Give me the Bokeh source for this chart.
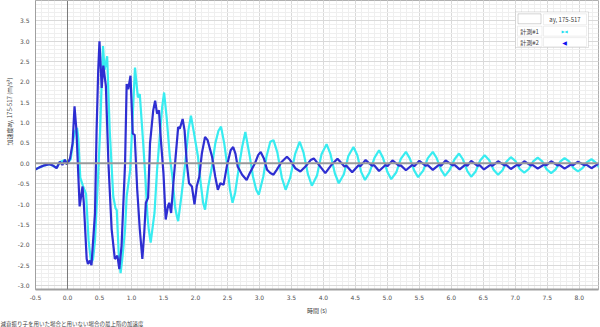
from bokeh.plotting import figure
from bokeh.models import (Range1d, FixedTicker, PrintfTickFormatter, Span,
                          BoxAnnotation, Label, Title, ColumnDataSource)
from bokeh.embed import file_html
from bokeh.resources import INLINE

# ---------------- data ----------------
series_names = ["計測#1", "計測#2"]
legend_header = "ay, 175-517"
y_label = "加速度ay, 175-517 (m/s²)"
x_label = "時間 (s)"
footer = "減衰振り子を用いた場合と用いない場合の最上階の加速度"

# 計測#1 (cyan)
t1 = [-0.52, -0.36, -0.28, -0.17, -0.12, -0.04, 0.00, 0.05, 0.09, 0.12, 0.15, 0.17,
      0.20, 0.24, 0.29, 0.33, 0.37, 0.40, 0.43, 0.47, 0.51, 0.535, 0.555, 0.58, 0.62,
      0.66, 0.715, 0.75, 0.77, 0.80, 0.83, 0.86, 0.90, 0.925, 0.98, 1.055, 1.10, 1.13,
      1.18, 1.22, 1.25, 1.27, 1.30, 1.36, 1.40, 1.45, 1.48, 1.51, 1.55, 1.60, 1.64,
      1.68, 1.71, 1.73, 1.78, 1.84, 1.89, 1.93, 1.97, 2.04, 2.07, 2.12, 2.15, 2.20,
      2.25, 2.31, 2.36, 2.40, 2.45, 2.50, 2.54, 2.58, 2.62, 2.68, 2.73, 2.78, 2.85,
      2.90, 2.95, 2.99, 3.06, 3.11, 3.17, 3.22,
      3.28, 3.35, 3.41, 3.48, 3.56, 3.63, 3.69, 3.76, 3.82, 3.90, 3.97, 4.05,
      4.11, 4.18, 4.24, 4.32, 4.39, 4.47, 4.53, 4.59, 4.65, 4.72, 4.80, 4.87,
      4.93, 5.00, 5.06, 5.14, 5.21, 5.29, 5.35, 5.42, 5.48, 5.56, 5.63, 5.71,
      5.77, 5.84, 5.90, 5.97, 6.05, 6.12, 6.18, 6.25, 6.31, 6.38, 6.45, 6.52,
      6.59, 6.66, 6.73, 6.80, 6.86, 6.93, 7.00, 7.07, 7.14, 7.21, 7.28, 7.35,
      7.42, 7.49, 7.56, 7.63, 7.70, 7.77, 7.84, 7.91, 7.98, 8.05, 8.12, 8.19,
      8.25, 8.31, 8.38]
a1 = [-0.16, -0.05, -0.02, -0.11, 0.03, 0.08, 0.00, 0.10, 0.57, 0.80, 0.87, 0.60,
      -0.35, -0.55, -0.75, -1.90, -2.45, -2.35, -1.90, -0.60, 0.80, 2.00, 2.88, 2.30, 2.63,
      0.81, -0.81, -1.10, -1.15, -2.20, -2.70, -2.30, -1.62, -0.81, -0.16, 2.35, 1.62, 1.70,
      0.57, -0.41, -1.30, -1.62, -1.95, -1.22, -0.16, 0.81, 1.38, 1.74, 1.13, 0.16, -0.33,
      -1.06, -1.30, -1.42, -0.81, 0.00, 0.81, 1.17, 0.81, 0.16, -0.33, -0.97, -1.14, -0.57,
      -0.16, 0.49, 0.80, 0.90, 0.49, -0.08, -0.65, -0.97, -0.73, -0.08, 0.40, 0.77, 0.16,
      -0.33, -0.65, -0.77, -0.33, 0.16, 0.53, 0.57,
      0.27, -0.35, -0.65, -0.36, 0.24, 0.53, 0.26, -0.28, -0.55, -0.30, 0.22, 0.47,
      0.23, -0.25, -0.49, -0.27, 0.18, 0.40, 0.20, -0.21, -0.41, -0.23, 0.14, 0.32,
      0.14, -0.21, -0.39, -0.22, 0.11, 0.28, 0.12, -0.18, -0.34, -0.18, 0.12, 0.28,
      0.13, -0.16, -0.31, -0.17, 0.10, 0.24, 0.10, -0.19, -0.33, -0.20, 0.07, 0.20,
      0.08, -0.16, -0.28, -0.17, 0.04, 0.15, 0.06, -0.14, -0.23, -0.14, 0.05, 0.14,
      0.05, -0.15, -0.24, -0.15, 0.04, 0.13, 0.05, -0.12, -0.20, -0.12, 0.03, 0.10,
      0.03, -0.10, -0.18]

# 計測#2 (blue)
t2 = [-0.52, -0.44, -0.36, -0.28, -0.22, -0.17, -0.12, -0.08, -0.04, -0.01, 0.04, 0.08,
      0.11, 0.14, 0.17, 0.19, 0.235, 0.255, 0.30, 0.32, 0.35, 0.375, 0.43, 0.455, 0.48,
      0.50, 0.535, 0.56, 0.60, 0.64, 0.69, 0.74, 0.78, 0.81, 0.845, 0.90, 0.925, 0.95,
      0.985, 1.02, 1.05, 1.09, 1.13, 1.17, 1.20, 1.225, 1.26, 1.29, 1.34, 1.37, 1.40,
      1.43, 1.46, 1.50, 1.535, 1.57, 1.59, 1.62, 1.655, 1.69, 1.73, 1.755, 1.80, 1.83,
      1.865, 1.90, 1.945, 1.985, 2.02, 2.06, 2.10, 2.15, 2.19, 2.26, 2.31, 2.35, 2.39,
      2.44, 2.49, 2.55, 2.59, 2.625, 2.66, 2.73, 2.80, 2.85, 2.93, 2.98, 3.02, 3.07,
      3.12, 3.17, 3.22, 3.27, 3.35, 3.43, 3.48, 3.56, 3.64, 3.72, 3.80, 3.85, 3.93,
      4.03, 4.12,
      4.22, 4.33, 4.36, 4.45, 4.55, 4.58, 4.66, 4.76, 4.79, 4.87, 4.97, 5.00, 5.08,
      5.18, 5.21, 5.29, 5.39, 5.42, 5.50, 5.60, 5.63, 5.71, 5.81, 5.84, 5.91, 6.02,
      6.05, 6.13, 6.22, 6.25, 6.31, 6.41, 6.44, 6.51, 6.61, 6.64, 6.73, 6.83, 6.86,
      6.93, 7.03, 7.06, 7.14, 7.24, 7.27, 7.35, 7.45, 7.48, 7.56, 7.66, 7.69, 7.77,
      7.87, 7.90, 7.98, 8.08, 8.11, 8.19, 8.29, 8.38]
a2 = [-0.17, -0.10, -0.05, -0.02, -0.06, -0.12, 0.04, -0.04, 0.09, -0.03, 0.12, 0.49,
      1.40, 0.81, -0.33, -1.06, -0.57, -0.97, -2.35, -2.47, -2.39, -2.50, -1.22, 0.81, 2.27,
      3.00, 1.85, 2.40, 1.90, 0.00, -1.62, -2.35, -2.27, -2.60, -2.03, 0.00, 1.95, 1.82,
      2.15, 0.73, 0.70, -0.65, -1.62, -2.35, -1.70, -0.97, -0.85, 0.49, 1.30, 1.54, 1.22,
      1.30, 0.57, -0.24, -1.38, -1.06, -0.97, -1.22, -0.49, 0.16, 0.89, 0.85, 1.09, 0.81,
      0.00, -0.49, -0.57, -1.01, -0.57, -0.33, 0.24, 0.65, 0.57, 0.16, -0.33, -0.65, -0.49,
      -0.53, -0.08, 0.32, 0.40, 0.24, -0.08, -0.28, -0.41, -0.24, 0.00, 0.20, 0.28, 0.12,
      -0.16, -0.24, -0.28, -0.16, 0.04, 0.16, 0.08, -0.12, -0.20, -0.08, 0.08, 0.12, -0.04,
      -0.24, -0.05,
      0.11, -0.08, -0.06, -0.22, -0.05, -0.07, 0.08, -0.06, -0.04, -0.19, -0.04, -0.07, 0.07,
      -0.06, -0.05, -0.17, -0.04, -0.07, 0.06, -0.06, -0.04, -0.16, -0.03, -0.06, 0.07, -0.05,
      -0.04, -0.15, -0.03, -0.06, 0.06, -0.06, -0.04, -0.15, -0.04, -0.06, 0.05, -0.05, -0.04,
      -0.14, -0.03, -0.06, 0.05, -0.05, -0.04, -0.13, -0.03, -0.05, 0.05, -0.05, -0.04, -0.13,
      -0.03, -0.05, 0.04, -0.05, -0.03, -0.12, -0.02, 0.03]

x_ticks = [-0.5, 0.0, 0.5, 1.0, 1.5, 2.0, 2.5, 3.0, 3.5, 4.0, 4.5, 5.0, 5.5, 6.0,
           6.5, 7.0, 7.5, 8.0]
y_ticks = [-3.0, -2.5, -2.0, -1.5, -1.0, -0.5, 0.0, 0.5, 1.0, 1.5, 2.0, 2.5, 3.0, 3.5]

# ---------------- layout / style ----------------
W, H = 600, 327
FL, FR, FT, FB = 35, 598, 0, 292
X0, X1 = -0.5, 8.3
Y0, Y1 = -3.1, 4.0
CYAN = "#38ecf0"
BLUE = "#2e2ed2"
JP = "Noto Sans CJK JP"
NUM = "DejaVu Sans"


def dx(px):
    return X0 + (px - FL) * (X1 - X0) / (FR - FL)


def dy(py):
    return Y1 - (py - FT) * (Y1 - Y0) / (FB - FT)


p = figure(width=W, height=H, output_backend="svg", toolbar_location=None,
           x_range=Range1d(X0, X1), y_range=Range1d(Y0, Y1),
           min_border_left=FL, min_border_right=W - FR, min_border_top=FT,
           min_border_bottom=H - FB)
p.background_fill_color = "white"
p.border_fill_color = "white"
p.outline_line_color = "#b0b0b0"

minor_x = [round(-0.5 + 0.1 * i, 2) for i in range(89)]
minor_y = [round(-3.1 + 0.1 * i, 2) for i in range(72)]
p.xaxis.ticker = FixedTicker(ticks=x_ticks, minor_ticks=minor_x)
p.yaxis.ticker = FixedTicker(ticks=y_ticks, minor_ticks=minor_y)
p.xaxis.formatter = PrintfTickFormatter(format="%.1f")
p.yaxis.formatter = PrintfTickFormatter(format="%.1f")

for ax in (p.xaxis[0], p.yaxis[0]):
    ax.major_tick_line_color = None
    ax.minor_tick_line_color = None
    ax.major_tick_out = 0
    ax.minor_tick_out = 0
    ax.major_tick_in = 0
    ax.minor_tick_in = 0
    ax.major_label_text_font = NUM
    ax.major_label_text_font_size = "6px"
    ax.major_label_text_color = "#505050"
    ax.axis_label_text_font = JP
    ax.axis_label_text_font_size = "6px"
    ax.axis_label_text_font_style = "normal"
    ax.axis_label_text_color = "#404040"
    ax.axis_line_color = "#a0a0a0"

p.xaxis.axis_line_width = 2
p.xaxis.major_label_standoff = 5
p.xaxis.axis_label_standoff = 3
p.yaxis.major_label_standoff = 6
p.xaxis.axis_label = x_label

p.xgrid.grid_line_color = "#d9d9d9"
p.ygrid.grid_line_color = "#d9d9d9"
p.xgrid.minor_grid_line_color = "#efefef"
p.ygrid.minor_grid_line_color = "#efefef"

p.add_layout(Span(location=0, dimension="width", line_color="#9a9a9a", line_width=2))
p.add_layout(Span(location=0, dimension="height", line_color="#7a7a7a", line_width=1))

src1 = ColumnDataSource(dict(t=t1, a=a1))
src2 = ColumnDataSource(dict(t=t2, a=a2))
p.line("t", "a", source=src1, line_color=CYAN, line_width=2.2)
p.line("t", "a", source=src2, line_color=BLUE, line_width=2.2)

# y-axis title, a little above the frame centre as in the reference
p.add_layout(Title(text=y_label, align="left", text_font=JP, text_font_size="6px",
                   text_font_style="normal", text_color="#404040", offset=144,
                   standoff=2), "left")

# ---------------- legend table ----------------
def box(l, r, t, b, line="#c8c8c8", fill="white"):
    p.add_layout(BoxAnnotation(left=dx(l), right=dx(r), top=dy(t), bottom=dy(b),
                               fill_color=fill, fill_alpha=1.0, line_color=line,
                               line_width=1, level="overlay"))

box(515, 588, 11.5, 47.5, line="#9a9a9a")
box(517.5, 540.5, 13.5, 23.5, line="#707070")
box(543, 586, 13.5, 24.5)
box(517, 541.5, 26, 36)
box(543, 586, 26, 36)
box(517, 541.5, 37.5, 46.5)
box(543, 586, 37.5, 46.5)


def lab(px, py, text, color="#404040", size="6px", font=JP):
    p.add_layout(Label(x=dx(px), y=dy(py), text=text, text_align="center",
                       text_baseline="middle", text_font_size=size,
                       text_font=font, text_color=color, level="overlay"))

lab(564.5, 19, legend_header)
lab(529, 31, series_names[0])
lab(529, 42, series_names[1])
lab(564, 31.5, "▶◀", color="#20e0f0", size="4px", font=NUM)
lab(564, 42, "◀", color="#1010f0", size="6px", font=NUM)

p.add_layout(Title(text=footer, align="left", text_font=JP, text_font_size="5.5px",
                   text_font_style="normal", text_color="#404040", offset=-FL,
                   standoff=0), "below")

open("out.html", "w").write(file_html(p, INLINE))
